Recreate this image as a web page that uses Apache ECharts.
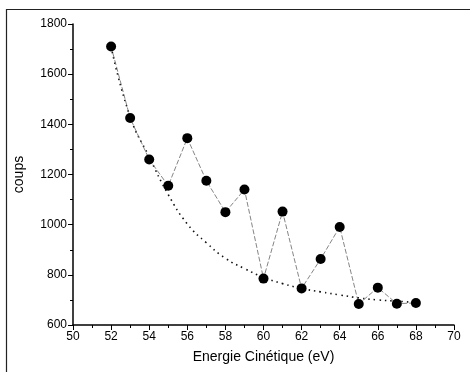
<!DOCTYPE html>
<html><head><meta charset="utf-8">
<script src="https://cdn.jsdelivr.net/npm/echarts@6/dist/echarts.min.js"></script>
<style>html,body{margin:0;padding:0;background:#fff}#c{width:473px;height:372px}</style>
</head><body><div id="c"></div>
<script>
var energies = [52,53,54,55,56,57,58,59,60,61,62,63,64,65,66,67,68];
var counts   = [1710,1425,1260,1155,1345,1175,1050,1140,785,1052,746,863,991,684,749,685,688];
var fitX     = [52,53,54,55,56,57,58,59,60,61,62,63,64,65,66,67,68];
var fitY     = [1710,1430,1270,1120,1003,928,866,825,790,765,746,732,720,708,700,695,690];

var chart = echarts.init(document.getElementById('c'));
var font = 'Liberation Sans, Arial, sans-serif';
chart.setOption({
  animation: false,
  backgroundColor: '#fff',
  grid: {left: 73, right: 19, top: 24, bottom: 47, containLabel: false},
  xAxis: {
    type: 'value', min: 50, max: 70, interval: 2,
    name: 'Energie Cinétique (eV)', nameLocation: 'middle', nameGap: 25,
    nameTextStyle: {fontFamily: font, fontSize: 14, color: '#000'},
    axisLine: {show: true, onZero: false, lineStyle: {color: '#000', width: 1.5}},
    axisTick: {show: true, inside: false, length: 5, lineStyle: {color: '#000', width: 1}},
    minorTick: {show: true, splitNumber: 2, length: 3, lineStyle: {color: '#000'}},
    axisLabel: {fontFamily: font, fontSize: 12, color: '#000', margin: 6},
    splitLine: {show: false}
  },
  yAxis: {
    type: 'value', min: 600, max: 1800, interval: 200,
    name: 'coups', nameLocation: 'middle', nameGap: 47, nameRotate: 90,
    nameTextStyle: {fontFamily: font, fontSize: 14, color: '#000'},
    axisLine: {show: true, onZero: false, lineStyle: {color: '#000', width: 1.5}},
    axisTick: {show: true, inside: false, length: 5, lineStyle: {color: '#000', width: 1}},
    minorTick: {show: true, splitNumber: 2, length: 3, lineStyle: {color: '#000'}},
    axisLabel: {fontFamily: font, fontSize: 12, color: '#000', margin: 6, formatter: function(v){ return String(v); }},
    splitLine: {show: false}
  },
  graphic: [
    {type: 'line', shape: {x1: 6, y1: 9.5, x2: 470, y2: 9.5}, style: {stroke: '#222', lineWidth: 1.2}, silent: true},
    {type: 'line', shape: {x1: 6.5, y1: 9, x2: 6.5, y2: 372}, style: {stroke: '#222', lineWidth: 1.2}, silent: true}
  ],
  series: [
    {
      type: 'line', data: fitX.map(function(x, i){ return [x, fitY[i]]; }),
      smooth: true, symbol: 'none',
      lineStyle: {color: '#111', width: 1.6, type: [1.5, 4]},
      z: 2
    },
    {
      type: 'line', data: energies.map(function(x, i){ return [x, counts[i]]; }),
      symbol: 'circle', symbolSize: 10,
      itemStyle: {color: '#000'},
      lineStyle: {color: '#666', width: 0.8, type: [5, 2]},
      z: 3
    }
  ]
});
</script></body></html>
